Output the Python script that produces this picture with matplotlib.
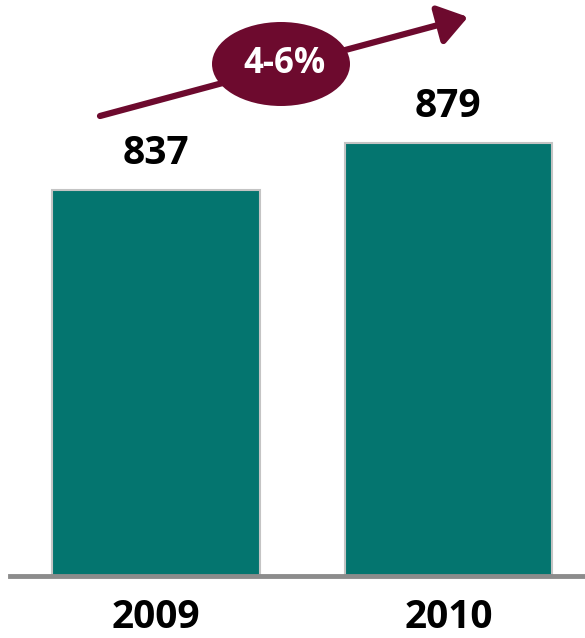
import matplotlib.pyplot as plt
from matplotlib.patches import Ellipse

# data
years = ['2009', '2010']
values = [837, 879]
growth_label = '4-6%'

bar_color = '#04756f'
accent = '#6d0a2e'

W, H = 585, 638
fig = plt.figure(figsize=(W / 100, H / 100), dpi=100)

# axes spans from the baseline up to the top of the picture
ax = fig.add_axes([10 / W, (H - 576) / H, 575 / W, 576 / H])
x = list(range(len(years)))
ax.bar(x, values, width=0.71, color=bar_color, edgecolor='#c4c4c4', linewidth=1.5, zorder=2)
ax.set_xlim(-0.499, 1.467)
ax.set_ylim(492, 1007)

for xi, v in zip(x, values):
  ax.text(xi, v + 15, f'{v}', ha='center', va='bottom', fontsize=28,
          fontweight='bold', family='Open Sans', color='black')

ax.set_xticks(x)
ax.set_xticklabels(years, fontsize=28, fontweight='bold', family='Open Sans')
ax.tick_params(axis='x', length=0, pad=16)
ax.set_yticks([])

for side in ['top', 'right', 'left']:
  ax.spines[side].set_visible(False)
ax.spines['bottom'].set_color('#8c8c8c')
ax.spines['bottom'].set_linewidth(3.5)

# growth arrow with badge (figure pixel coords)
def fpx(px, py):
  return (px / W, 1 - py / H)

ax.annotate('', xy=fpx(468, 17), xytext=fpx(100, 116),
            xycoords='figure fraction', textcoords='figure fraction',
            arrowprops=dict(arrowstyle='-|>,head_length=0.8,head_width=0.55',
                            lw=4.5, color=accent, mutation_scale=22,
                            shrinkA=0, shrinkB=0),
            annotation_clip=False)

cx, cy = fpx(281, 64)
badge = Ellipse((cx, cy), 138 / W, 84 / H, transform=fig.transFigure,
                facecolor=accent, edgecolor='none', zorder=5)
fig.patches.append(badge)
fig.text(*fpx(285, 64), growth_label, ha='center', va='center', fontsize=25,
         fontweight='bold', family='Open Sans', color='white', zorder=6)

fig.savefig('out.png', dpi=100)
